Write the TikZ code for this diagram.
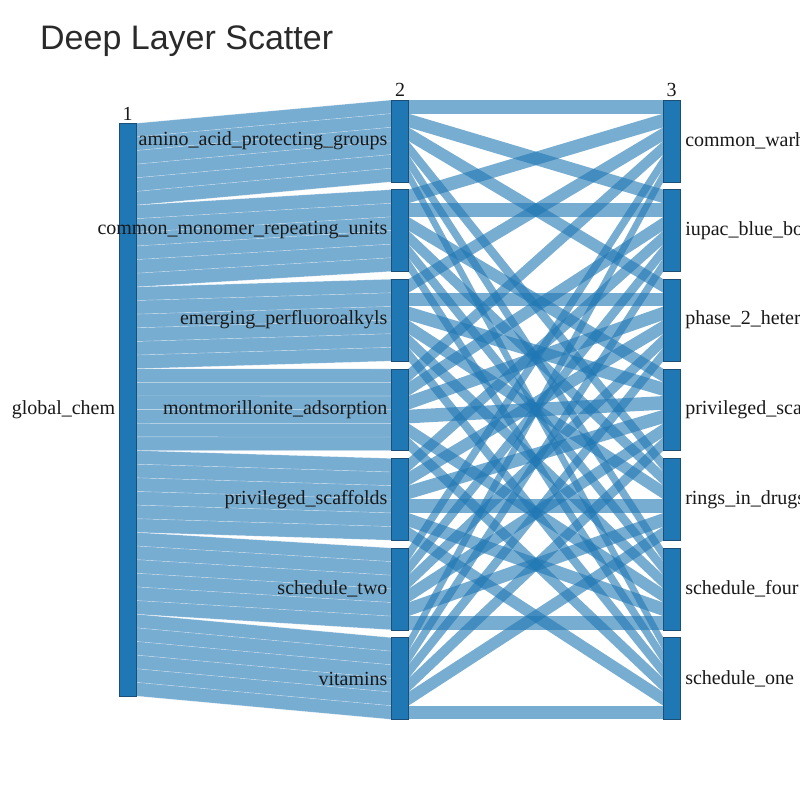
\documentclass[tikz,border=0pt]{standalone}
\usepackage{fontspec}
\setmainfont{Liberation Serif}
\newfontfamily\titlefont{Liberation Sans}
\usetikzlibrary{positioning,calc}
\definecolor{nodeblue}{HTML}{1F77B4}
\definecolor{nodeedge}{HTML}{1B4F78}
\definecolor{titlegray}{HTML}{2A2A2A}
\pgfdeclarelayer{links}
\pgfsetlayers{links,main}
\tikzset{
  bar/.style={draw=nodeedge, line width=0.6pt, fill=nodeblue, minimum width=16.7pt, inner sep=0pt, outer sep=0pt},
  flow/.style={fill=nodeblue, fill opacity=0.6},
  seam/.style={draw=white, draw opacity=0.45, line width=0.4pt},
  lbl/.style={font=\fontsize{20}{24}\selectfont, inner sep=0pt, text=black!90}
}

\begin{document}
\begin{tikzpicture}[x=1pt, y=-1pt]
\useasboundingbox (0,0) rectangle (800,800);
\clip (0,0) rectangle (800,800);
\def\u{13.636}
\node[anchor=base west, font=\titlefont\fontsize{34}{40}\selectfont, text=titlegray, inner sep=0pt] (title) at (40,50) {Deep Layer Scatter};
% columns
\node[bar, minimum height=572.7pt] (chem) at (127.7,409.65) {};
\foreach \i in {0,...,6} {
  \node[bar, minimum height=81.8pt] (mid\i) at (400,{140.9+89.6*\i}) {};
  \node[bar, minimum height=81.8pt] (end\i) at (671.7,{140.9+89.6*\i}) {};
}
\begin{pgfonlayer}{links}
\fill[white] (0,0) rectangle (800,800);
% global_chem -> second column
\foreach \i in {0,...,6} {
  \foreach \j in {0,...,5} {
    \pgfmathtruncatemacro\k{6*\i+\j}
    \filldraw[flow, seam] ($(chem.north east)+(0,\k*\u)$) -- ($(mid\i.north west)+(0,\j*\u)$) -- ++(0,\u) -- ($(chem.north east)+(0,\k*\u+\u)$) -- cycle;
  }
}
% second column -> third column (source/slot/target/slot)
\foreach \s/\ps/\t/\pt in {0/0/0/0, 0/1/1/0, 0/2/2/0, 0/3/4/0, 0/4/5/0, 0/5/6/0,
    1/0/0/1, 1/1/1/1, 1/2/3/0, 1/3/4/1, 1/4/5/1, 1/5/6/1,
    2/0/0/2, 2/1/2/1, 2/2/3/1, 2/3/4/2, 2/4/5/2, 2/5/6/2,
    3/0/0/3, 3/1/1/2, 3/2/2/2, 3/3/3/2, 3/4/5/3, 3/5/6/3,
    4/0/1/3, 4/1/2/3, 4/2/3/3, 4/3/4/3, 4/4/5/4, 4/5/6/4,
    5/0/0/4, 5/1/1/4, 5/2/2/4, 5/3/3/4, 5/4/4/4, 5/5/5/5,
    6/0/0/5, 6/1/1/5, 6/2/2/5, 6/3/3/5, 6/4/4/5, 6/5/6/5} {
  \fill[flow] ($(mid\s.north east)+(0,\ps*\u)$) -- ($(end\t.north west)+(0,\pt*\u)$) -- ++(0,\u) -- ($(mid\s.north east)+(0,\ps*\u+\u)$) -- cycle;
}
\end{pgfonlayer}
% labels
\node[lbl, above=3pt of chem] (num1) {1};
\node[lbl, above=3pt of mid0] (num2) {2};
\node[lbl, above=3pt of end0] (num3) {3};
\node[lbl, left=4pt of chem] (chemlbl) {global\_chem};
\foreach \i/\name in {0/amino\_acid\_protecting\_groups, 1/common\_monomer\_repeating\_units,
    2/emerging\_perfluoroalkyls, 3/montmorillonite\_adsorption, 4/privileged\_scaffolds,
    5/schedule\_two, 6/vitamins}
  \node[lbl, left=4pt of mid\i] (midlbl\i) {\name};
\foreach \i/\name in {0/common\_warheads, 1/iupac\_blue\_book, 2/phase\_2\_hetereocycles,
    3/privileged\_scaffolds, 4/rings\_in\_drugs, 5/schedule\_four, 6/schedule\_one}
  \node[lbl, right=5pt of end\i] (endlbl\i) {\name};
\end{tikzpicture}
\end{document}
